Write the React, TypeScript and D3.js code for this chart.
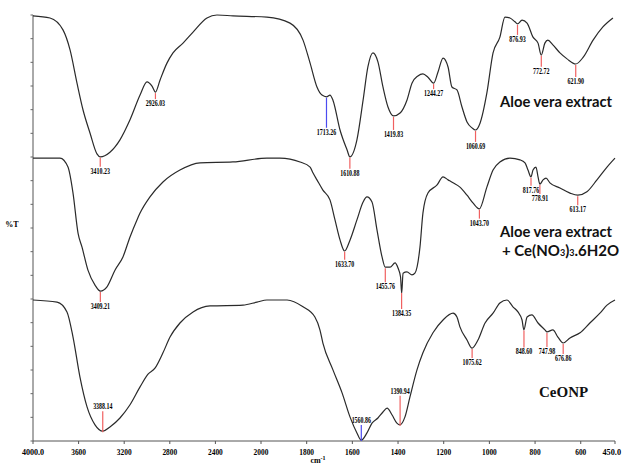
import React from 'react';
import * as d3 from 'd3';

// wavenumber (cm-1), %T (display units)
const aloeExtract = [
  [4000, 99.8], [3851, 99.3], [3737, 96.5], [3675, 91.8], [3614, 84.0], [3561, 77.7], [3500, 72.3],
  [3439, 67.4], [3410, 66.7], [3325, 67.8], [3237, 70.7], [3149, 75.4], [3061, 81.2], [3000, 84.3],
  [2956, 83.3], [2926, 81.9], [2886, 84.7], [2825, 88.7], [2772, 91.1], [2684, 93.4], [2596, 96.0],
  [2474, 99.3], [2386, 100], [2246, 99.8], [1974, 99.5], [1873, 98.1], [1816, 94.1], [1785, 88.7],
  [1755, 83.1], [1733, 81.2], [1713, 80.8], [1698, 81.2], [1685, 80.0], [1654, 73.0], [1623, 68.3],
  [1611, 66.7], [1580, 70.7], [1553, 80.0], [1532, 87.8], [1510, 91.1], [1488, 89.0], [1466, 83.1],
  [1444, 78.4], [1420, 76.3], [1391, 77.0], [1361, 80.0], [1339, 84.0], [1313, 85.7], [1291, 86.2],
  [1269, 85.4], [1244, 84.0], [1225, 86.6], [1203, 89.9], [1181, 87.8], [1164, 83.1], [1142, 82.4],
  [1120, 78.4], [1098, 74.9], [1076, 73.5], [1061, 73.0], [1041, 74.6], [1011, 81.7], [984, 91.1],
  [954, 94.8], [932, 99.5], [910, 99.3], [888, 98.4], [877, 97.9], [857, 98.8], [835, 98.1],
  [809, 94.8], [787, 93.4], [773, 90.6], [757, 93.4], [744, 94.1], [722, 93.0], [691, 91.1],
  [660, 89.7], [622, 88.5], [589, 90.1], [546, 94.1], [503, 97.2], [459, 99.3],
];

const aloeCerium = [
  [4000, 66.4], [3763, 66.4], [3693, 64.3], [3649, 58.2], [3605, 48.8], [3570, 45.5], [3518, 40.1],
  [3456, 36.6], [3409, 35.2], [3351, 36.2], [3281, 40.1], [3211, 43.2], [3149, 47.9], [3088, 51.9],
  [3061, 53.5], [2974, 57.3], [2860, 60.8], [2711, 63.6], [2535, 65.3], [2246, 65.5], [1974, 66.4],
  [1917, 66.4], [1829, 65.5], [1785, 64.3], [1772, 62.9], [1755, 61.3], [1729, 58.9], [1698, 56.6],
  [1676, 51.9], [1654, 47.2], [1634, 44.6], [1610, 47.2], [1580, 51.9], [1553, 56.1], [1536, 57.3],
  [1514, 56.1], [1492, 49.5], [1470, 43.2], [1456, 40.8], [1435, 40.8], [1413, 41.8], [1400, 40.6],
  [1389, 38.5], [1384, 34.7], [1378, 39.4], [1361, 39.7], [1339, 39.0], [1326, 39.4], [1304, 45.5],
  [1291, 53.5], [1269, 58.2], [1229, 60.1], [1203, 62.0], [1181, 61.3], [1159, 60.6], [1129, 59.6],
  [1098, 57.7], [1072, 55.9], [1044, 54.5], [1011, 59.6], [984, 63.6], [954, 65.5], [910, 66.4],
  [866, 66.0], [844, 65.3], [831, 63.6], [818, 62.0], [809, 63.6], [796, 64.3], [787, 62.0],
  [779, 60.3], [765, 61.3], [752, 61.7], [735, 60.6], [691, 59.4], [647, 58.2], [613, 57.7],
  [573, 58.5], [529, 61.3], [485, 64.3], [450, 66.4],
];

const ceonp = [
  [4000, 33.1], [3789, 32.6], [3702, 30.3], [3649, 24.4], [3588, 15.0], [3526, 8.0], [3456, 3.8],
  [3388, 2.3], [3325, 3.3], [3237, 5.4], [3149, 8.5], [3061, 12.7], [2991, 15.7], [2930, 17.1],
  [2860, 20.7], [2798, 24.4], [2711, 27.7], [2596, 30.3], [2447, 31.7], [2158, 31.9], [2035, 32.6],
  [1974, 33.1], [1886, 33.1], [1816, 31.5], [1764, 29.1], [1742, 26.1], [1729, 23.0], [1685, 16.7],
  [1645, 11.3], [1610, 5.6], [1580, 1.9], [1561, 0.2], [1536, 1.9], [1514, 4.2], [1488, 5.4],
  [1466, 6.8], [1448, 7.7], [1426, 6.1], [1405, 4.2], [1391, 3.8], [1370, 5.6], [1348, 10.3],
  [1317, 16.7], [1291, 20.7], [1247, 25.4], [1203, 28.4], [1159, 30.0], [1142, 29.1], [1129, 26.8],
  [1098, 23.7], [1076, 21.8], [1050, 23.7], [1019, 27.7], [984, 30.0], [954, 32.4], [923, 33.1],
  [897, 31.5], [875, 30.3], [857, 28.4], [849, 26.1], [835, 29.1], [814, 29.6], [787, 27.7],
  [757, 26.1], [748, 25.6], [722, 26.1], [700, 24.4], [677, 23.0], [647, 24.2], [603, 25.4],
  [560, 27.7], [516, 30.0], [485, 31.9], [450, 33.1],
];

const aloePeaks = [3410.23, 2926.03, 1713.26, 1610.88, 1419.83, 1244.27, 1060.69, 876.93, 772.72, 621.90];
const ceriumPeaks = [3409.21, 1633.70, 1455.76, 1384.35, 1043.70, 817.76, 778.91, 613.17];
const ceonpPeaks = [3388.14, 1560.86, 1390.94, 1075.62, 848.60, 747.98, 676.86];
const bluePeaks = [1713.26, 1560.86];

const xTicks = [4000, 3600, 3200, 2800, 2400, 2000, 1800, 1600, 1400, 1200, 1000, 800, 600, 450];
const xTickLabels = ['4000.0', '3600', '3200', '2800', '2400', '2000', '1800', '1600', '1400', '1200', '1000', '800', '600', '450.0'];

// stick length (px), negative = label above the curve
const stickLen: Record<number, number> = {
  3410.23: 9, 2926.03: 6, 1713.26: 30, 1610.88: 11, 1419.83: 13, 1244.27: 5, 1060.69: 11,
  876.93: 10, 772.72: 11, 621.9: 12,
  3409.21: 10, 1633.7: 8, 1455.76: 14, 1384.35: 16, 1043.7: 9, 817.76: 8, 778.91: 9, 613.17: 9,
  3388.14: -21, 1560.86: -16, 1390.94: -30, 1075.62: 9, 848.6: 17, 747.98: 14, 676.86: 10,
};

const W = 623;
const H = 465;
const x = d3.scaleLinear().domain([4000, 2000, 450]).range([33, 261, 615]);
const y = d3.scaleLinear().domain([0, 100]).range([441, 15]);

const line = d3.line<number[]>()
  .x(d => x(d[0]))
  .y(d => y(d[1]))
  .curve(d3.curveMonotoneX);

function valueAt(series: number[][], wn: number) {
  for (let i = 0; i < series.length - 1; i++) {
    const [a, va] = series[i];
    const [b, vb] = series[i + 1];
    if (wn <= a && wn >= b) return va + (vb - va) * (a - wn) / (a - b);
  }
  return series[series.length - 1][1];
}

const tiny = { fontFamily: '"Liberation Serif", serif', fontWeight: 700, fontSize: 7.5 } as const;

function Peaks({ series, peaks }: { series: number[][]; peaks: number[] }) {
  return (
    <g>
      {peaks.map(p => {
        const px = x(p);
        const py = y(valueAt(series, p)) + 1;
        const len = stickLen[p] ?? 9;
        const end = py + len;
        const txt = p.toFixed(2);
        const ty = len > 0 ? end + 7 : end - 2;
        return (
          <g key={p}>
            <line x1={px} x2={px} y1={py} y2={end}
              stroke={bluePeaks.includes(p) ? '#4b4bf0' : '#f06060'} strokeWidth={1.2} />
            <text x={px} y={ty} textAnchor="middle" {...tiny}
              textLength={txt.length * 2.75} lengthAdjust="spacingAndGlyphs">{txt}</text>
          </g>
        );
      })}
    </g>
  );
}

export default function App() {
  const yTicks = d3.range(0, 19).map(i => y((i * 100) / 18));
  const traces = [aloeExtract, aloeCerium, ceonp];
  return (
    <svg width={W} height={H} style={{ position: 'absolute', left: 0, top: 0, background: '#fff' }}>
      {/* axes */}
      <line x1={x(4000)} x2={x(4000)} y1={y(100)} y2={y(0)} stroke="#555" strokeWidth={1} />
      <line x1={x(4000)} x2={x(450)} y1={y(0)} y2={y(0)} stroke="#555" strokeWidth={1} />
      {yTicks.map((t, i) => (
        <line key={i} x1={x(4000) - 2.5} x2={x(4000)} y1={t} y2={t} stroke="#666" strokeWidth={1} />
      ))}
      {xTicks.map((t, i) => {
        const last = i === xTicks.length - 1;
        const w = xTickLabels[i].length * 3.7;
        return (
          <g key={t}>
            <line x1={x(t)} x2={x(t)} y1={y(0)} y2={y(0) + 3} stroke="#555" strokeWidth={1} />
            <text x={last ? W - 2 : x(t)} y={y(0) + 14} textAnchor={last ? 'end' : 'middle'}
              fontFamily='"Liberation Serif", serif' fontWeight={700} fontSize={9}
              textLength={w} lengthAdjust="spacingAndGlyphs">{xTickLabels[i]}</text>
          </g>
        );
      })}
      <text x={12} y={227} textAnchor="middle" fontFamily='"Liberation Serif", serif' fontWeight={700}
        fontSize={8}>%T</text>
      <text x={318} y={463} textAnchor="middle" fontFamily='"Liberation Serif", serif' fontWeight={700}
        fontSize={8}>cm<tspan fontSize={6} dy={-3}>-1</tspan></text>

      {/* spectra */}
      {traces.map((s, i) => (
        <path key={i} d={line(s) ?? ''} fill="none" stroke="#2a2a2a" strokeWidth={1.2} />
      ))}
      <Peaks series={aloeExtract} peaks={aloePeaks} />
      <Peaks series={aloeCerium} peaks={ceriumPeaks} />
      <Peaks series={ceonp} peaks={ceonpPeaks} />

      {/* series names */}
      <g fontFamily="Lato, sans-serif" fontWeight={700} fontSize={15} fill="#111">
        <text x={500} y={107} textLength={112} lengthAdjust="spacingAndGlyphs">Aloe vera extract</text>
        <text x={500} y={237} textLength={112} lengthAdjust="spacingAndGlyphs">Aloe vera extract</text>
        <text x={502} y={256}>+ Ce(NO<tspan fontSize={9}>3</tspan>)<tspan fontSize={9}>3</tspan>.6H2O</text>
      </g>
      <text x={539} y={397} fontFamily='"Liberation Serif", serif' fontWeight={700} fontSize={15}
        fill="#111">CeONP</text>
    </svg>
  );
}
